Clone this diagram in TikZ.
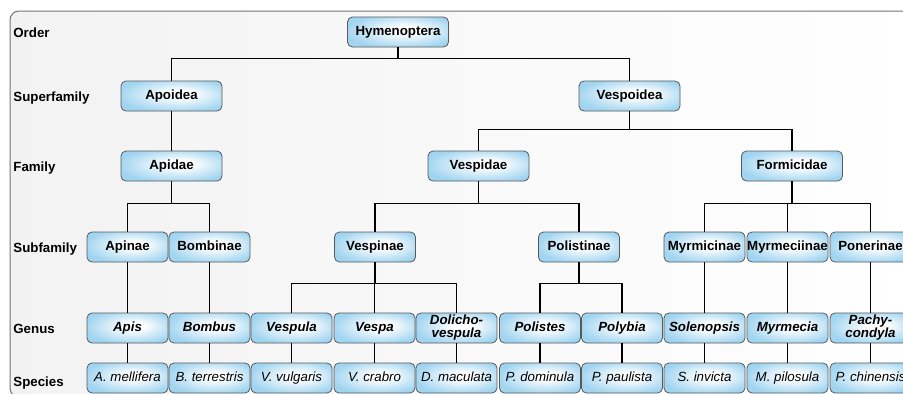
\documentclass[tikz,border=0pt]{standalone}
\usepackage{fontspec}
\setmainfont{Liberation Sans}
\definecolor{boxblue}{RGB}{160,212,240}
\pgfdeclareradialshading{taxonfill}{\pgfpoint{5bp}{4bp}}{color(0bp)=(white); color(6bp)=(white); color(29bp)=(boxblue); color(50bp)=(boxblue)}

\begin{document}
\begin{tikzpicture}[x=1bp, y=1bp, thick,
    taxonbox/.style={draw=black!65, line width=0.8bp, rounded corners=5bp, shading=taxonfill, minimum width=81bp, minimum height=30bp, inner xsep=0pt, inner ysep=1bp, align=center},
    taxon/.style={taxonbox, text height=9.6bp, text depth=2.8bp, font=\fontsize{13.3bp}{13bp}\selectfont\bfseries},
    wide/.style={taxon, minimum width=101bp},
    genus/.style={taxon, font=\fontsize{13.3bp}{13bp}\selectfont\bfseries\itshape},
    genustwo/.style={taxonbox, font=\fontsize{13.3bp}{13bp}\selectfont\bfseries\itshape},
    species/.style={taxon, font=\fontsize{13.3bp}{13bp}\selectfont\itshape},
    rank/.style={anchor=base west, inner sep=0pt, font=\fontsize{13.3bp}{13bp}\selectfont\bfseries},
    link/.style={black, line width=1.4bp}]
    \clip (0,0) rectangle (903,-393);
    \draw[black!55, line width=1bp, rounded corners=9bp, left color=black!5, middle color=black!11, right color=white] (10,-11) rectangle (920,-397);

    % rank labels
    \node[rank] at (13,-37) (R1) {Order};
    \node[rank] at (13,-101) (R2) {Superfamily};
    \node[rank] at (13,-171) (R3) {Family};
    \node[rank] at (13,-252) (R4) {Subfamily};
    \node[rank] at (13,-333) (R5) {Genus};
    \node[rank] at (13,-386.5) (R6) {Species};

    \node[wide] at (398,-32) (O) {Hymenoptera};
    \node[wide] at (171.5,-96) (S1) {Apoidea};
    \node[wide] at (629.5,-96) (S2) {Vespoidea};
    \node[wide] at (171.5,-166) (F1) {Apidae};
    \node[wide] at (478.5,-166) (F2) {Vespidae};
    \node[wide] at (792,-166) (F3) {Formicidae};

    \node[taxon] at (127.5,-247) (SF1) {Apinae};
    \node[taxon] at (209.5,-247) (SF2) {Bombinae};
    \node[taxon] at (375,-247) (SF3) {Vespinae};
    \node[taxon] at (579,-247) (SF4) {Polistinae};
    \node[taxon] at (704.5,-247) (SF5) {Myrmicinae};
    \node[taxon] at (787.5,-247) (SF6) {Myrmeciinae};
    \node[taxon] at (870.5,-247) (SF7) {Ponerinae};

    \node[genus] at (127.5,-328) (G1) {Apis};
    \node[genus] at (209.5,-328) (G2) {Bombus};
    \node[genus] at (291.5,-328) (G3) {Vespula};
    \node[genus] at (374.5,-328) (G4) {Vespa};
    \node[genustwo] at (456.5,-328) (G5) {Dolicho-\\vespula};
    \node[genus] at (540,-328) (G6) {Polistes};
    \node[genus] at (622,-328) (G7) {Polybia};
    \node[genus] at (704.5,-328) (G8) {Solenopsis};
    \node[genus] at (787.5,-328) (G9) {Myrmecia};
    \node[genustwo] at (870.5,-328) (G10) {Pachy-\\condyla};

    \node[species] at (127.5,-378) (P1) {A. mellifera};
    \node[species] at (209.5,-378) (P2) {B. terrestris};
    \node[species] at (291.5,-378) (P3) {V. vulgaris};
    \node[species] at (374.5,-378) (P4) {V. crabro};
    \node[species] at (456.5,-378) (P5) {D. maculata};
    \node[species] at (540,-378) (P6) {P. dominula};
    \node[species] at (622,-378) (P7) {P. paulista};
    \node[species] at (704.5,-378) (P8) {S. invicta};
    \node[species] at (787.5,-378) (P9) {M. pilosula};
    \node[species] at (870.5,-378) (P10) {P. chinensis};

    \draw[link] (O.south) -- ++(0,-11) -| (S1.north);
    \draw[link] (O.south) -- ++(0,-11) -| (S2.north);
    \draw[link] (S1) -- (F1);
    \draw[link] (S2.south) -- ++(0,-18) -| (F2.north);
    \draw[link] (S2.south) -- ++(0,-18) -| (F3.north);

    \draw[link] (F1.south) -- ++(0,-22) -| (SF1.north);
    \draw[link] (F1.south) -- ++(0,-22) -| (SF2.north);
    \draw[link] (F2.south) -- ++(0,-22) -| (SF3.north);
    \draw[link] (F2.south) -- ++(0,-22) -| (SF4.north);
    \draw[link] (F3.south) -- ++(0,-22) -| (SF5.north);
    \draw[link] (F3.south) -- ++(0,-22) -| (SF6.north);
    \draw[link] (F3.south) -- ++(0,-22) -| (SF7.north);

    \draw[link] (SF1) -- (G1);
    \draw[link] (SF2) -- (G2);
    \draw[link] (SF3.south) -- ++(0,-21) -| (G3.north);
    \draw[link] (SF3.south) -- ++(0,-21) -| (G4.north);
    \draw[link] (SF3.south) -- ++(0,-21) -| (G5.north);
    \draw[link] (SF4.south) -- ++(0,-21) -| (G6.north);
    \draw[link] (SF4.south) -- ++(0,-21) -| (G7.north);
    \draw[link] (SF5) -- (G8);
    \draw[link] (SF6) -- (G9);
    \draw[link] (SF7) -- (G10);

    \draw[link] (G1) -- (P1);
    \draw[link] (G2) -- (P2);
    \draw[link] (G3) -- (P3);
    \draw[link] (G4) -- (P4);
    \draw[link] (G5) -- (P5);
    \draw[link] (G6) -- (P6);
    \draw[link] (G7) -- (P7);
    \draw[link] (G8) -- (P8);
    \draw[link] (G9) -- (P9);
    \draw[link] (G10) -- (P10);

\end{tikzpicture}
\end{document}
